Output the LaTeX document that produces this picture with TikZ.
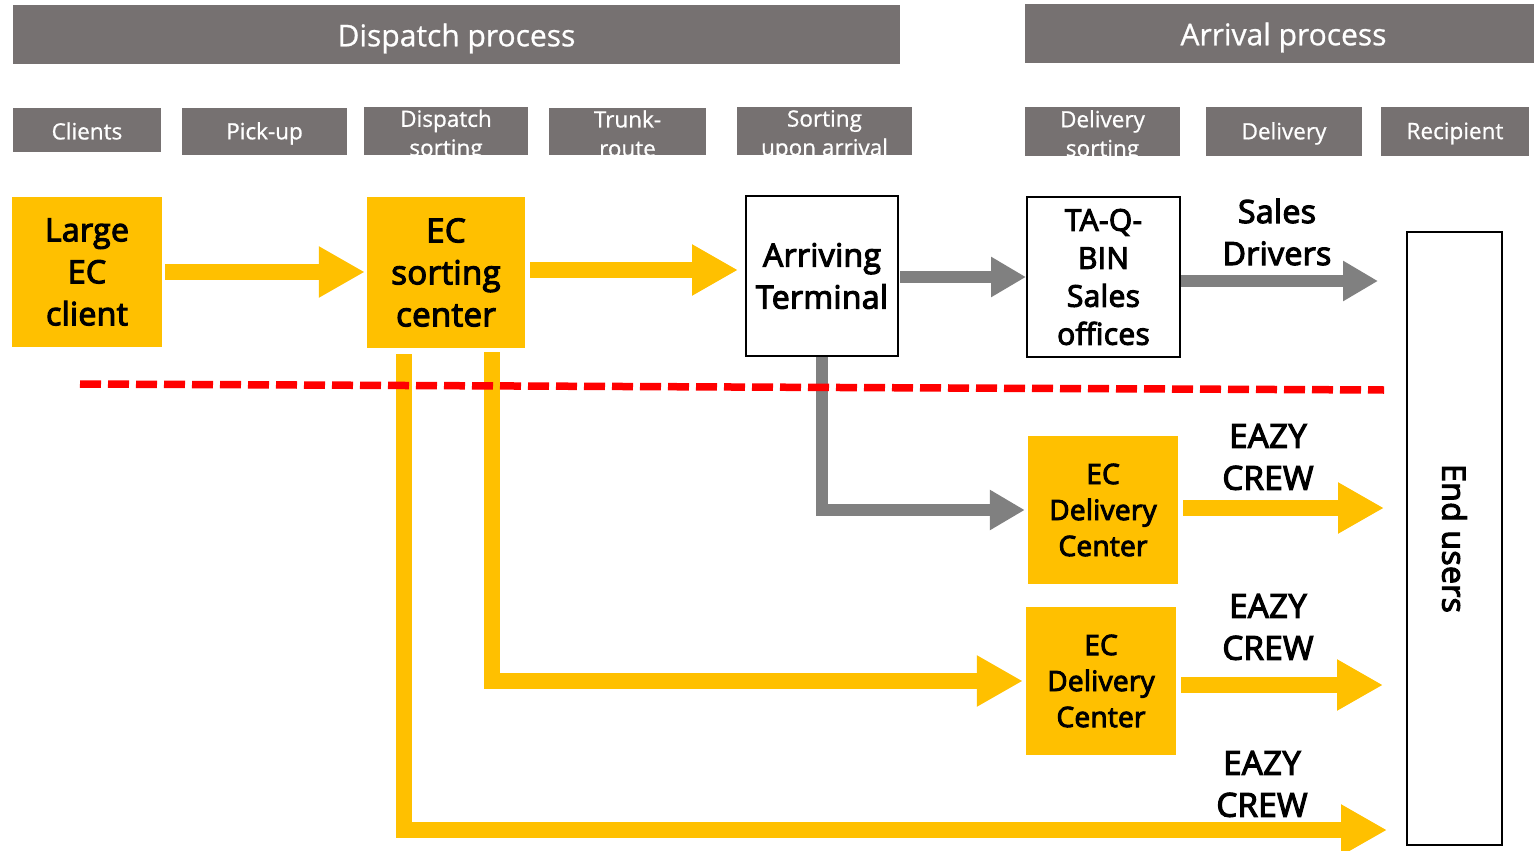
\documentclass[tikz,border=0pt]{standalone}
\usepackage{fontspec}
\setmainfont{Open Sans}
\newfontfamily\semib{Open Sans}[FakeBold=3.5,LetterSpace=1]
\newfontfamily\subfont{Open Sans}[FakeBold=0.8]
\usetikzlibrary{arrows.meta}
\definecolor{hdrgray}{HTML}{767171}
\definecolor{ecyellow}{HTML}{FFC000}
\definecolor{arrgray}{HTML}{808080}
\begin{document}
\begin{tikzpicture}[x=1pt,y=-1pt,
 hdr/.style={fill=hdrgray, draw=none, inner sep=0pt},
 hdrtext/.style={text=white, inner sep=0pt, font=\subfont\fontsize{30}{36}\selectfont},
 sub/.style={fill=hdrgray, draw=none, inner sep=0pt},
 subtext/.style={text=white, align=center, inner sep=0pt, font=\subfont\fontsize{22.5}{29}\selectfont},
 ybox/.style={fill=ecyellow, draw=none, inner sep=0pt, align=center},
 wbox/.style={draw=black, line width=2pt, fill=white, inner sep=0pt, align=center},
 yarrow/.style={draw=ecyellow, line width=16pt, line join=miter, -{Triangle[length=46pt,width=48pt]}},
 garrow/.style={draw=arrgray, line width=12pt, line join=miter, -{Triangle[length=35pt,width=38pt]}},
 lbl/.style={align=center, inner sep=0pt},
 dashline/.style={draw=red, line width=7.5pt, dash pattern=on 21pt off 7pt}
]
\useasboundingbox (0,0) rectangle (1534,851);
\fill[white] (0,0) rectangle (1534,851);

% headers
\node[hdr, minimum width=887pt, minimum height=59pt] (h1) at (456.5,34.5) {};
\node[hdrtext] (h1t) at ([yshift=-4pt]h1.center) {Dispatch process};
\node[hdr, minimum width=509pt, minimum height=59pt] (h2) at (1279.5,33.5) {};
\node[hdrtext] (h2t) at ([xshift=4pt,yshift=-4pt]h2.center) {Arrival process};

% sub headers
\node[sub, minimum width=148pt, minimum height=44pt] (s1) at (87,130) {};
\node[subtext] (s1t) at ([yshift=-1pt]s1.center) {Clients};
\node[sub, minimum width=165pt, minimum height=47pt] (s2) at (264.5,131.5) {};
\node[subtext] (s2t) at ([yshift=-2pt]s2.center) {Pick-up};
\node[sub, minimum width=164pt, minimum height=48pt] (s3) at (446,131) {};
\node[sub, minimum width=157pt, minimum height=47pt] (s4) at (627.5,131.5) {};
\node[sub, minimum width=175pt, minimum height=48pt] (s5) at (824.5,131) {};
\node[sub, minimum width=155pt, minimum height=49pt] (s6) at (1102.5,131.5) {};
\node[sub, minimum width=156pt, minimum height=49pt] (s7) at (1284,131.5) {};
\node[subtext] (s7t) at ([yshift=-2pt]s7.center) {Delivery};
\node[sub, minimum width=148pt, minimum height=49pt] (s8) at (1455,131.5) {};
\node[subtext] (s8t) at ([yshift=-2pt]s8.center) {Recipient};
\begin{scope}
\clip (s3.south west) rectangle (s3.north east);
\node[subtext] (s3t) at ([yshift=-4.5pt]s3.center) {Dispatch\\sorting};
\end{scope}
\begin{scope}
\clip (s4.south west) rectangle (s4.north east);
\node[subtext] (s4t) at ([yshift=-2pt]s4.center) {Trunk-\\route};
\end{scope}
\begin{scope}
\clip (s5.south west) rectangle (s5.north east);
\node[subtext] (s5t) at ([yshift=-4.5pt]s5.center) {Sorting\\upon arrival};
\end{scope}
\begin{scope}
\clip (s6.south west) rectangle (s6.north east);
\node[subtext] (s6t) at ([yshift=-4.5pt]s6.center) {Delivery\\sorting};
\end{scope}

% main boxes
\node[ybox, minimum width=150pt, minimum height=150pt, font=\semib\fontsize{32}{42}\selectfont] (lec) at (87,272) {Large\\EC\\client};
\node[ybox, minimum width=158pt, minimum height=151pt, font=\semib\fontsize{33}{42}\selectfont] (sort) at (446,272.5) {EC\\sorting\\center};
\node[wbox, minimum width=152pt, minimum height=160pt, font=\semib\fontsize{32}{42}\selectfont] (arr) at (822,276) {Arriving\\Terminal};
\node[wbox, minimum width=153pt, minimum height=160pt, font=\semib\fontsize{30}{38}\selectfont] (tq) at (1103.5,277) {TA-Q-\\BIN\\Sales\\offices};
\node[ybox, minimum width=150pt, minimum height=148pt, font=\semib\fontsize{28}{36}\selectfont] (edc1) at (1103,510) {EC\\Delivery\\Center};
\node[ybox, minimum width=150pt, minimum height=148pt, font=\semib\fontsize{28}{36}\selectfont] (edc2) at (1101,681) {EC\\Delivery\\Center};
\node[wbox, minimum width=95pt, minimum height=613pt] (end) at (1454.5,538.5) {};
\node[lbl, rotate=-90, font=\semib\fontsize{32}{40}\selectfont] (endt) at (end) {End users};

% labels
\node[lbl, font=\semib\fontsize{32}{42}\selectfont] (ld) at (1277,232) {Sales\\Drivers};
\node[lbl, font=\semib\fontsize{33}{42}\selectfont] (le1) at (1268,457) {EAZY\\CREW};
\node[lbl, font=\semib\fontsize{33}{42}\selectfont] (le2) at (1268,627) {EAZY\\CREW};
\node[lbl, font=\semib\fontsize{33}{42}\selectfont] (le3) at (1262,784) {EAZY\\CREW};

% connectors
\coordinate (u3) at (1387,830);
\draw[yarrow] ([xshift=46pt,yshift=-4pt]sort.south) |- ([xshift=-3pt]edc2.west);
\draw[yarrow] ([xshift=-42.5pt,yshift=-6pt]sort.south) |- (u3);
\draw[garrow] (arr.south) |- ([xshift=-3pt]edc1.west);
\draw[yarrow] ([xshift=3pt]lec.east) -- ([xshift=-2pt]lec.east -| sort.west);
\draw[yarrow] ([xshift=5pt,yshift=2.5pt]sort.east) -- ([xshift=-7pt,yshift=2.5pt]sort.east -| arr.west);
\draw[garrow] ([xshift=1pt,yshift=-1pt]arr.east) -- ([yshift=-1pt]arr.east -| tq.west);
\draw[garrow] ([yshift=-4pt]tq.east) -- ([xshift=-28pt,yshift=-4pt]tq.east -| end.west);
\draw[yarrow] ([xshift=5pt,yshift=2pt]edc1.east) -- ([xshift=-22pt,yshift=2pt]edc1.east -| end.west);
\draw[yarrow] ([xshift=5pt,yshift=-4pt]edc2.east) -- ([xshift=-23pt,yshift=-4pt]edc2.east -| end.west);

% divider
\coordinate (dl) at (80,384);
\coordinate (dr) at (1384,390);
\draw[dashline] (dl) -- (dr);
\end{tikzpicture}
\end{document}
